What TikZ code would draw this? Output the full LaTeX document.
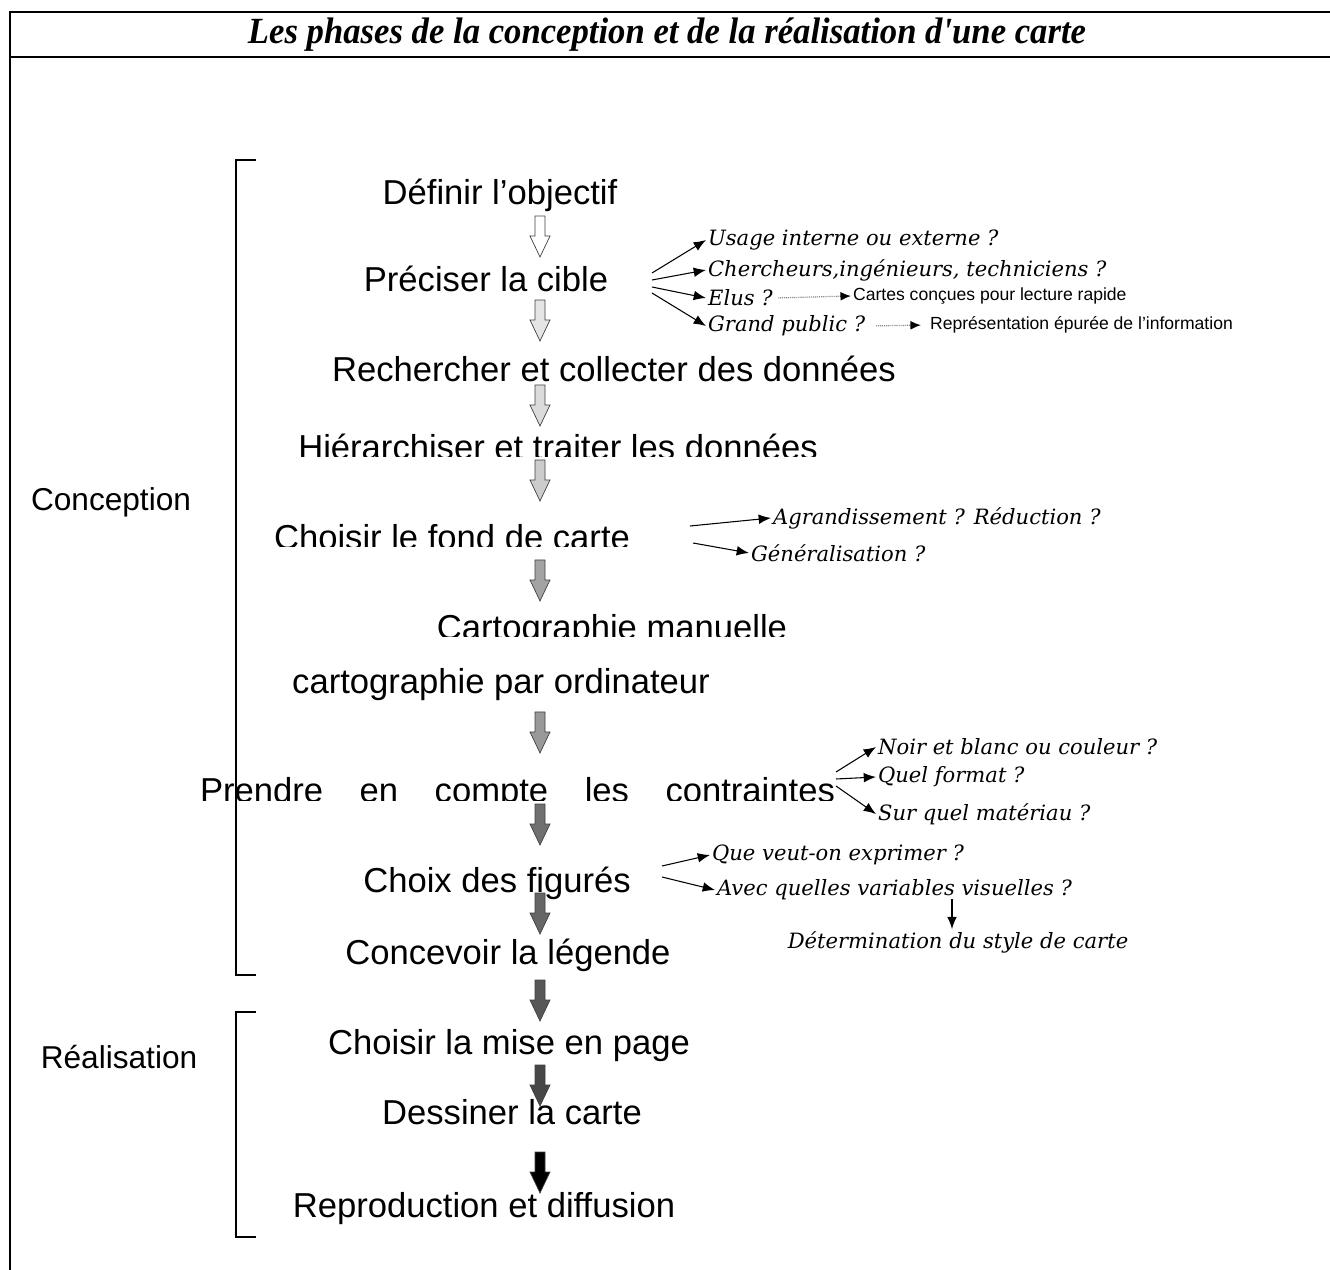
\documentclass[tikz,border=0pt]{standalone}
\usepackage{fontspec}
\setmainfont{Liberation Sans}
\newfontfamily\titlefont{Liberation Serif}
\newfontfamily\notefont{DejaVu Serif}
\usetikzlibrary{arrows.meta, calc}
\definecolor{shadeA}{gray}{1.00}
\definecolor{shadeB}{gray}{0.90}
\definecolor{shadeC}{gray}{0.86}
\definecolor{shadeD}{gray}{0.80}
\definecolor{shadeE}{gray}{0.64}
\definecolor{shadeF}{gray}{0.60}
\definecolor{shadeG}{gray}{0.44}
\definecolor{shadeH}{gray}{0.40}
\definecolor{shadeI}{gray}{0.34}
\definecolor{shadeJ}{gray}{0.28}
\definecolor{shadeK}{gray}{0.00}
\definecolor{dotgray}{gray}{0.55}
\tikzset{
  title/.style={font=\titlefont\bfseries\itshape\fontsize{21}{24}\selectfont, inner sep=1pt},
  phase/.style={font=\fontsize{19.7}{22}\selectfont, anchor=base, inner sep=2pt},
  part/.style={font=\fontsize{18}{20}\selectfont, anchor=base, inner sep=1pt},
  note/.style={font=\notefont\itshape\fontsize{12}{14}\selectfont, anchor=west, inner sep=1pt},
  remark/.style={font=\fontsize{10}{12}\selectfont, anchor=west, inner sep=1pt},
  arrow/.style={-{Latex[length=7pt,width=5.5pt]}, line width=0.6pt},
  dotarrow/.style={draw=dotgray, dash pattern=on 0.6pt off 0.5pt, line width=0.7pt,
    -{Latex[length=6pt,width=5pt,black]}},
  flow/.style={draw=black!75, line width=0.4pt},
  frame/.style={line width=1.6pt},
  bracket/.style={line width=0.8pt}
}

\begin{document}
\begin{tikzpicture}[x=0.02cm, y=-0.02cm]
  \useasboundingbox (0,0) rectangle (1330,1270);
  \draw[frame] (1330,12) -- (10,12) -- (10,1270);
  \draw[frame] (10,57) -- (1330,57);
  \node[title] (title) at (667,35) {\scalebox{0.94}[1]{Les phases de la conception et de la réalisation d'une carte}};

  \node[phase] (objectif) at (500,205) {Définir l’objectif};
  \node[phase] (cible) at (486,292) {Préciser la cible};
  \node[phase] (collecte) at (614,382) {Rechercher et collecter des données};
  \begin{scope}
    \clip (200,420) rectangle (950,457);
    \node[phase] (traiter) at (558,460) {Hiérarchiser et traiter les données};
  \end{scope}
  \begin{scope}
    \clip (200,510) rectangle (950,547);
    \node[phase] (fond) at (452,550) {Choisir le fond de carte};
  \end{scope}
  \begin{scope}
    \clip (200,600) rectangle (950,637);
    \node[phase] (manuelle) at (612,640) {Cartographie manuelle};
  \end{scope}
  \node[phase] (ordinateur) at (501,694) {cartographie par ordinateur};
  \begin{scope}
    \clip (150,760) rectangle (950,800);
    \node[phase, inner sep=0pt] (contraintes) at (517.5,803) {\makebox[12.7cm][s]{Prendre en compte les contraintes}};
  \end{scope}
  \node[phase] (figures) at (497,892) {Choix des figurés};
  \node[phase] (legende) at (508,964) {Concevoir la légende};
  \node[phase] (miseenpage) at (509,1054) {Choisir la mise en page};
  \node[phase] (dessiner) at (512,1124) {Dessiner la carte};
  \node[phase] (diffusion) at (484,1217) {Reproduction et diffusion};

  \foreach \ytop/\shade in {216/shadeA, 300/shadeB, 385/shadeC, 460/shadeD, 560/shadeE,
      712/shadeF, 804/shadeG, 893/shadeH, 980/shadeI, 1065/shadeJ, 1152/shadeK}
    \filldraw[flow, fill=\shade] (535,\ytop) -- (545,\ytop) -- (545,\ytop+20) -- (550,\ytop+20)
      -- (540,\ytop+41) -- (530,\ytop+20) -- (535,\ytop+20) -- cycle;

  \draw[bracket] (256,160) -- (236,160) -- (236,975) -- (256,975);
  \draw[bracket] (256,1012) -- (236,1012) -- (236,1237) -- (256,1237);
  \node[part] (conception) at (111,511) {Conception};
  \node[part] (realisation) at (119,1068) {Réalisation};

  \node[note] (usage) at (706,240) {Usage interne ou externe ?};
  \node[note] (chercheurs) at (706,270) {Chercheurs,ingénieurs, techniciens ?};
  \node[note] (elus) at (706,298) {Elus ?};
  \node[note] (public) at (706,326) {Grand public ?};
  \node[remark] (rapide) at (851,296) {Cartes conçues pour lecture rapide};
  \node[remark] (epuree) at (928,325) {Représentation épurée de l’information};
  \coordinate (cibleA) at (652,273);
  \coordinate (cibleB) at (652,280);
  \coordinate (cibleC) at (652,287);
  \coordinate (cibleD) at (652,293);
  \draw[arrow] (cibleA) -- (usage.west);
  \draw[arrow] (cibleB) -- (chercheurs.west);
  \draw[arrow] (cibleC) -- (elus.west);
  \draw[arrow] (cibleD) -- (public.west);
  \draw[dotarrow, shorten <=2pt] (elus.east) -- (rapide.west);
  \draw[dotarrow, shorten <=5pt, shorten >=4pt] (public.east) -- (epuree.west);

  \node[note] (agrandir) at (771,518) {Agrandissement ? Réduction ?};
  \node[note] (generaliser) at (749,553) {Généralisation ?};
  \coordinate (fondA) at (690,526);
  \coordinate (fondB) at (693,543);
  \draw[arrow] (fondA) -- (agrandir.west);
  \draw[arrow] (fondB) -- (generaliser.west);

  \node[note] (couleur) at (876,747) {Noir et blanc ou couleur ?};
  \node[note] (format) at (876,777) {Quel format ?};
  \node[note] (materiau) at (876,814) {Sur quel matériau ?};
  \coordinate (contrA) at (836,772);
  \coordinate (contrB) at (836,779);
  \coordinate (contrC) at (836,786);
  \draw[arrow] (contrA) -- (couleur.west);
  \draw[arrow] (contrB) -- (format.west);
  \draw[arrow] (contrC) -- (materiau.west);

  \node[note] (exprimer) at (710,855) {Que veut-on exprimer ?};
  \node[note] (variables) at (715,890) {Avec quelles variables visuelles ?};
  \node[note, anchor=center] (style) at (958,942) {Détermination du style de carte};
  \coordinate (figA) at (662,866);
  \coordinate (figB) at (662,877);
  \coordinate (varS) at (952,899);
  \draw[arrow] (figA) -- (exprimer.west);
  \draw[arrow] (figB) -- (variables.west);
  \draw[arrow] (varS) -- (varS |- style.north);
\end{tikzpicture}
\end{document}
